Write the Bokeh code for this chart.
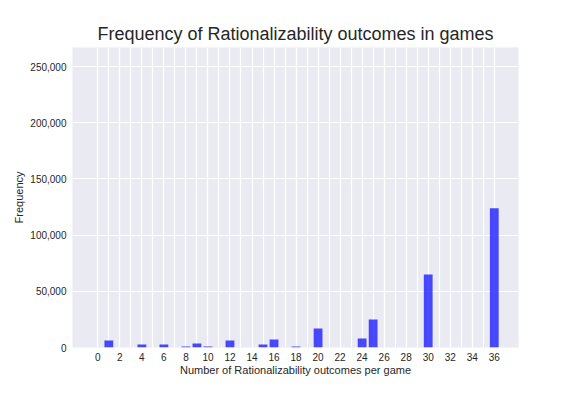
from bokeh.plotting import figure
from bokeh.models import FixedTicker, NumeralTickFormatter, Range1d, ColumnDataSource
from bokeh.embed import file_html
from bokeh.resources import INLINE

outcomes = [1, 4, 6, 8, 9, 10, 12, 15, 16, 18, 20, 24, 25, 30, 36]
frequency = [6200, 2600, 2600, 900, 3600, 900, 6200, 2600, 7100, 900, 17000, 8000, 25000, 65000, 124000]
x_tick_values = list(range(0, 37, 2))
x_grid_values = list(range(0, 37))
y_tick_values = [0, 50000, 100000, 150000, 200000, 250000]

TEXT = "#262626"
FONT = "Liberation Sans"

p = figure(width=568, height=388, output_backend="svg", toolbar_location=None,
           x_range=Range1d(-2.3, 38.2), y_range=Range1d(0, 267000),
           min_border_left=72, min_border_right=50, min_border_top=47, min_border_bottom=41)

p.title.text = "Frequency of Rationalizability outcomes in games"
p.title.align = "center"
p.title.text_font = FONT
p.title.text_font_size = "18px"
p.title.text_font_style = "normal"
p.title.text_color = TEXT
p.title.standoff = 8

p.background_fill_color = "#EAEAF2"
p.border_fill_color = "white"
p.outline_line_color = None

src = ColumnDataSource(dict(x=outcomes, top=frequency))
p.vbar(x="x", top="top", width=0.8, bottom=0, source=src,
       fill_color="blue", fill_alpha=0.7, line_color=None)

p.xaxis.ticker = FixedTicker(ticks=x_tick_values, minor_ticks=x_grid_values)
p.yaxis.ticker = FixedTicker(ticks=y_tick_values)
p.yaxis.formatter = NumeralTickFormatter(format="0,0")

for ax in (p.xaxis[0], p.yaxis[0]):
    ax.axis_line_color = None
    ax.major_tick_line_color = None
    ax.minor_tick_line_color = None
    ax.major_tick_out = 0
    ax.minor_tick_out = 0
    ax.major_tick_in = 0
    ax.minor_tick_in = 0
    ax.major_label_text_font = FONT
    ax.major_label_text_font_size = "10px"
    ax.major_label_text_color = TEXT
    ax.axis_label_text_font = FONT
    ax.axis_label_text_font_size = "11px"
    ax.axis_label_text_font_style = "normal"
    ax.axis_label_text_color = TEXT

p.xaxis.major_label_standoff = 5
p.yaxis.major_label_standoff = 6
p.xaxis.axis_label = "Number of Rationalizability outcomes per game"
p.yaxis.axis_label = "Frequency"
p.xaxis.axis_label_standoff = 0
p.yaxis.axis_label_standoff = 2

p.xgrid.grid_line_color = "white"
p.xgrid.grid_line_width = 1.2
p.xgrid.minor_grid_line_color = "white"
p.xgrid.minor_grid_line_width = 1.2
p.ygrid.grid_line_color = "white"
p.ygrid.grid_line_width = 1.2

open("out.html", "w").write(file_html(p, INLINE))
